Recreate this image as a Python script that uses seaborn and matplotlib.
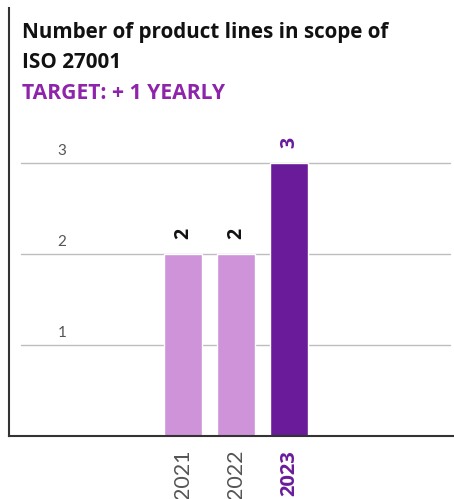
import matplotlib
matplotlib.use("Agg")
import matplotlib.pyplot as plt
import matplotlib.transforms as mtransforms
import seaborn as sns
import pandas as pd

years = ["2021", "2022", "2023"]
values = [2, 2, 3]
bar_colors = ["#ce93d8", "#ce93d8", "#6a1b9a"]
y_ticks = [1, 2, 3]
title_lines = ["Number of product lines in scope of", "ISO 27001"]
subtitle = "TARGET: + 1 YEARLY"

sns.set_theme(style="white")
plt.rcParams["font.family"] = ["Open Sans", "DejaVu Sans"]

df = pd.DataFrame({"year": years, "value": values})

fig = plt.figure(figsize=(4.54, 4.99), dpi=100)
ax = fig.add_axes([9 / 454, 1 - 436 / 499, 445 / 454, 428 / 499])

sns.barplot(data=df, x="year", y="value", hue="year", palette=bar_colors,
            dodge=False, width=0.717, legend=False, ax=ax, saturation=1)

ax.set_xlim(-3.283, 5.113)
ax.set_ylim(0, 4.703)

# gridlines
for t in y_ticks:
    ax.axhline(t, xmin=0.027, xmax=0.991, color="#bdbdbd", lw=1, zorder=0)

# y tick labels inside
trans = mtransforms.blended_transform_factory(ax.transAxes, ax.transData)
for t in y_ticks:
    ax.text(0.119, t + 0.13, str(t), transform=trans, ha="center", va="center",
            fontsize=11, color="#555555", fontweight="normal",
            family=["Lato", "DejaVu Sans"])
ax.set_yticks([])
ax.set_ylabel("")
ax.set_xlabel("")

# x tick labels
ax.tick_params(axis="x", length=0, pad=10)
ax.set_xticks(range(len(years)))
ax.set_xticklabels(years, rotation=90, fontsize=14.5, color="#555555",
                   va="top", ha="center")
lbls = ax.get_xticklabels()
for l in lbls[:-1]:
    l.set_fontweight("normal")
    l.set_family(["Lato", "DejaVu Sans"])
    l.set_fontsize(15.5)
lbls[-1].set_color("#6a1b9a")
lbls[-1].set_fontweight("bold")

# value labels
for i, v in enumerate(values):
    ax.annotate(str(v), (i, v), xytext=(0, 15), textcoords="offset pixels",
                rotation=90, ha="center", va="bottom", fontsize=14, fontweight="bold",
                color="#6a1b9a" if i == len(values) - 1 else "#111111")

for s in ["top", "right"]:
    ax.spines[s].set_visible(False)
ax.spines["left"].set_color("#333333")
ax.spines["left"].set_linewidth(1.5)
ax.spines["bottom"].set_color("#333333")
ax.spines["bottom"].set_linewidth(1.5)

fig.text(22 / 454, 1 - 38 / 499, title_lines[0], fontsize=14.9, fontweight="bold",
         color="#111111", ha="left", va="baseline")
fig.text(22 / 454, 1 - 68 / 499, title_lines[1], fontsize=14.9, fontweight="bold",
         color="#111111", ha="left", va="baseline")
fig.text(22 / 454, 1 - 99 / 499, subtitle, fontsize=15.2, fontweight="bold",
         color="#8e24aa", ha="left", va="baseline")

fig.savefig("out.png", dpi=100)
